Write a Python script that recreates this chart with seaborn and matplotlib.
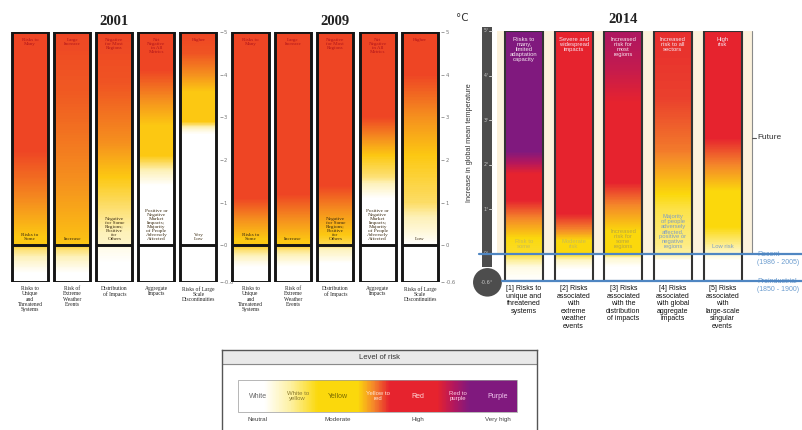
import numpy as np
import matplotlib
matplotlib.use("Agg")
import matplotlib.pyplot as plt
from matplotlib.patches import Rectangle, Ellipse
import seaborn as sns

# ---------------------------------------------------------------- data
old_categories = [
    "Risks to\nUnique\nand\nThreatened\nSystems",
    "Risk of\nExtreme\nWeather\nEvents",
    "Distribution\nof Impacts",
    "Aggregate\nImpacts",
    "Risks of Large\nScale\nDiscontinuities",
]
old_top_text = ["Risks to\nMany", "Large\nIncrease", "Negative\nfor Most\nRegions",
                "Net\nNegative\nin All\nMetrics", "Higher"]
bottom_text_2001 = ["Risks to\nSome", "Increase",
                    "Negative\nfor Some\nRegions;\nPositive\nfor\nOthers",
                    "Positive or\nNegative\nMarket\nImpacts;\nMajority\nof People\nAdversely\nAffected",
                    "Very\nLow"]
bottom_text_2009 = ["Risks to\nSome", "Increase",
                    "Negative\nfor Some\nRegions;\nPositive\nfor\nOthers",
                    "Positive or\nNegative\nMarket\nImpacts;\nMajority\nof People\nAdversely\nAffected",
                    "Low"]
old_ticks = [5, 4, 3, 2, 1, 0, -0.6]
old_tick_labels = ["5", "4", "3", "2", "1", "0", "-0.6"]

# ember colour stops: (temperature change in degC, risk level 0 = white ... 6 = purple)
embers_2001 = [
    [(5, 4), (2.2, 4), (1.0, 3), (0.2, 2), (0, 2), (-0.05, 1.5), (-0.45, 0), (-0.6, 0)],
    [(5, 4), (3.5, 3.7), (1.5, 3), (0.2, 2.2), (0, 2), (-0.05, 1.5), (-0.45, 0), (-0.6, 0)],
    [(5, 4), (3.8, 3.8), (2.4, 3), (1.6, 2), (0.3, 1), (0, 0.8), (-0.05, 0.3), (-0.3, 0), (-0.6, 0)],
    [(5, 4), (4.1, 4), (3.4, 3), (2.8, 2), (2.1, 2), (1.4, 0), (-0.6, 0)],
    [(5, 4), (4.5, 3.8), (4.0, 3), (3.6, 2), (2.9, 2), (2.7, 0.5), (2.6, 0), (-0.6, 0)],
]
embers_2009 = [
    [(5, 4), (1.1, 4), (0.6, 3), (0.15, 2), (0, 2), (-0.05, 1.6), (-0.35, 0), (-0.6, 0)],
    [(5, 4), (1.2, 4), (0.6, 3), (0.1, 2), (0, 2), (-0.05, 1.5), (-0.35, 0), (-0.6, 0)],
    [(5, 4), (1.4, 4), (0.8, 3), (0.25, 2), (0, 1.6), (-0.05, 1), (-0.3, 0), (-0.6, 0)],
    [(5, 4), (3.0, 4), (2.5, 3), (2.1, 2), (1.6, 1.4), (1.1, 0), (-0.6, 0)],
    [(5, 4), (4.0, 4), (3.0, 3), (2.1, 2), (1.0, 1.5), (0.3, 0.5), (0, 0), (-0.6, 0)],
]

categories_2014 = [
    "[1] Risks to\nunique and\nthreatened\nsystems",
    "[2] Risks\nassociated\nwith\nextreme\nweather\nevents",
    "[3] Risks\nassociated\nwith the\ndistribution\nof impacts",
    "[4] Risks\nassociated\nwith global\naggregate\nimpacts",
    "[5] Risks\nassociated\nwith\nlarge-scale\nsingular\nevents",
]
top_text_2014 = ["Risks to\nmany,\nlimited\nadaptation\ncapacity", "Severe and\nwidespread\nimpacts",
                 "Increased\nrisk for\nmost\nregions", "Increased\nrisk to all\nsectors", "High\nrisk"]
bottom_text_2014 = ["Risk to\nsome", "Moderate\nrisk", "Increased\nrisk for\nsome\nregions",
                    "Majority\nof people\nadversely\naffected,\npositive or\nnegative\nregions", "Low risk"]
bottom_color_2014 = ["#c9bb55", "#c9bb55", "#b8a640", "#7f9fc4", "#7f9fc4"]
embers_2014 = [
    [(5, 6), (2.3, 6), (1.8, 4), (1.2, 4), (0.8, 3), (0.35, 2), (0, 1.8), (-0.3, 0.3), (-0.61, 0)],
    [(5, 4), (0.9, 4), (0.55, 3), (0.3, 2), (0, 2), (-0.15, 0.6), (-0.35, 0), (-0.61, 0)],
    [(5, 5.1), (4.2, 4.7), (3.4, 4), (1.6, 4), (1.1, 3), (0.5, 2), (0, 2), (-0.1, 0.5), (-0.3, 0), (-0.61, 0)],
    [(5, 3.9), (3.5, 3.7), (2.3, 3.1), (1.5, 2.2), (1.0, 1.6), (0.2, 1.2), (0, 1), (-0.15, 0), (-0.61, 0)],
    [(5, 4), (2.6, 4), (2.0, 3), (1.4, 2), (0.6, 2), (0.15, 1), (0, 0.5), (-0.15, 0), (-0.61, 0)],
]
therm_ticks = [5, 4, 3, 2, 1, 0]
preindustrial = -0.61

legend_cells = ["White", "White to\nyellow", "Yellow", "Yellow to\nred", "Red", "Red to\npurple", "Purple"]
legend_cell_colors = ["#666666", "#8a7a30", "#7a6a00", "#ffe6d6", "#ffd8d8", "#ffd0e6", "#f2c8f0"]
legend_stops = [(-0.5, 0), (0.15, 0), (1.5, 2), (2.5, 2), (3.3, 4), (4.5, 4), (5.3, 6), (6.5, 6)]
legend_scale = ["Neutral", "Moderate", "High", "Very high"]
legend_scale_pos = [0, 2, 4, 6]

# ---------------------------------------------------------------- style
sns.set_theme(style="white")
plt.rcParams["font.family"] = ["DejaVu Sans"]
SERIF = "Liberation Serif"
SANS = "Liberation Sans"

cmap_old = sns.blend_palette(["#ffffff", "#fdf1b8", "#fcc812", "#f5901e",
                              "#ee4524", "#ee4524", "#ee4524"], as_cmap=True)
cmap_new = sns.blend_palette(["#ffffff", "#fdf0a0", "#fbd80c", "#f4852a",
                              "#e6232e", "#b3175d", "#80197e"], as_cmap=True)


def level_profile(stops, t):
    s = sorted(stops)
    return np.interp(t, [p[0] for p in s], [p[1] for p in s])


def draw_ember(ax, x, width, stops, cmap, tmin, tmax, n=400):
    edges = np.linspace(tmin, tmax, n + 1)
    mids = 0.5 * (edges[1:] + edges[:-1])
    lev = level_profile(stops, mids)
    ax.pcolormesh([x - width / 2, x + width / 2], edges, lev[:, None],
                  cmap=cmap, vmin=0, vmax=6, shading="flat", zorder=1)


def _fwd(t):
    t = np.asarray(t, dtype=float)
    return np.where(t < 0, t * 1.43, t)


def _inv(y):
    y = np.asarray(y, dtype=float)
    return np.where(y < 0, y / 1.43, y)


W, H = 802, 430
fig = plt.figure(figsize=(W / 100, H / 100), dpi=100)
fig.patch.set_facecolor("white")

# ---------------------------------------------------------------- 2001 / 2009 embers
old_panels = [
    ("2001", embers_2001, bottom_text_2001, [9 / W, 148 / H, 210.5 / W, 250 / H]),
    ("2009", embers_2009, bottom_text_2009, [229.3 / W, 148 / H, 212 / W, 250 / H]),
]
bar_w_old = 0.855
for year, embers, btext, rect in old_panels:
    ax = fig.add_axes(rect)
    ax.set_facecolor("white")
    ax.set_yscale("function", functions=(_fwd, _inv))
    ax.set_xlim(-0.5, 4.5)
    ax.set_ylim(-0.6, 5.0)
    for i, stops in enumerate(embers):
        draw_ember(ax, i, bar_w_old, stops, cmap_old, -0.6, 5.0)
        ax.add_patch(Rectangle((i - bar_w_old / 2, -0.6), bar_w_old, 5.6, fill=False,
                               ec="#151515", lw=2.1, zorder=3))
        ax.plot([i - bar_w_old / 2, i + bar_w_old / 2], [0, 0], color="#151515",
                lw=2.1, zorder=3, solid_capstyle="butt")
        ax.annotate(old_top_text[i], xy=(i, 5.0), xytext=(0, -4), textcoords="offset points",
                    ha="center", va="top", fontsize=3.6, color="#b0141a", family=SERIF,
                    linespacing=1.0, zorder=4)
        ax.annotate(btext[i], xy=(i, 0), xytext=(0, 3), textcoords="offset points",
                    ha="center", va="bottom", fontsize=3.8, color="#3a2a10", family=SERIF,
                    linespacing=1.0, zorder=4)
        ax.annotate(old_categories[i], xy=(i, -0.6), xytext=(0, -3), textcoords="offset points",
                    ha="center", va="top", fontsize=4, color="#222222", family=SERIF,
                    linespacing=1.05, annotation_clip=False)
    for sp in ax.spines.values():
        sp.set_visible(False)
    ax.set_xticks([])
    ax.yaxis.tick_right()
    ax.set_yticks(old_ticks)
    ax.set_yticklabels(old_tick_labels)
    ax.tick_params(axis="y", length=2, width=0.5, pad=1, labelsize=3.8,
                   colors="#777777", right=True, left=False)
    ax.set_title(year, fontsize=10.5, fontweight="bold", family=SERIF, color="#222222", pad=5)

# ---------------------------------------------------------------- 2014 embers
ax = fig.add_axes([450 / W, 149 / H, 352 / W, 250 / H])
ax.set_xlim(-1.49, 5.6)
ax.set_ylim(preindustrial, 5.0)
ax.axis("off")
bar_w_new = 0.766

# cream panel behind the embers
ax.add_patch(Rectangle((-0.544, 0), 5.14, 5.0, fc="#fbf1dc", ec="none", zorder=0))
ax.plot([4.596, 4.596], [0, 5.0], color="#8a8a8a", lw=0.8, zorder=0.5)

for i, stops in enumerate(embers_2014):
    draw_ember(ax, i, bar_w_new, stops, cmap_new, preindustrial, 5.0)
    ax.add_patch(Rectangle((i - bar_w_new / 2, preindustrial), bar_w_new, 5.0 - preindustrial,
                           fill=False, ec="#333333", lw=1.5, zorder=3))
    ax.annotate(top_text_2014[i], xy=(i, 5.0), xytext=(0, -4), textcoords="offset points",
                ha="center", va="top", fontsize=4.2, color="#f6e6f0", family=SANS,
                linespacing=1.0, zorder=4)
    ax.annotate(bottom_text_2014[i], xy=(i, 0.1), xytext=(0, 0), textcoords="offset points",
                ha="center", va="bottom", fontsize=4.2, color=bottom_color_2014[i], family=SANS,
                linespacing=1.0, zorder=4)
    ax.annotate(categories_2014[i], xy=(i, preindustrial), xytext=(0, -3),
                textcoords="offset points", ha="center", va="top", fontsize=5,
                color="#111111", family=SANS, linespacing=1.1, annotation_clip=False)

ax.text(2, 5.12, "2014", ha="center", va="bottom", fontsize=10.5, fontweight="bold",
        family=SERIF, color="#222222")

# reference lines
ax.plot([-0.9, 5.6], [0, 0], color="#4f86c2", lw=1.6, zorder=5, clip_on=False)
ax.plot([-0.45, 5.6], [preindustrial, preindustrial], color="#4f86c2", lw=1.6, zorder=5,
        clip_on=False)
ax.text(4.70, 0.06, "Recent\n(1986 - 2005)", ha="left", va="top", fontsize=5,
        color="#6c9dcf", family=SANS, linespacing=1.1)
ax.text(4.70, preindustrial + 0.06, "Preindustrial\n(1850 - 1900)", ha="left", va="top",
        fontsize=5, color="#6c9dcf", family=SANS, linespacing=1.1)
ax.plot([4.596, 4.68], [2.6, 2.6], color="#555555", lw=0.8)
ax.text(4.70, 2.6, "Future", ha="left", va="center", fontsize=6, color="#333333", family=SANS)

# thermometer
tx = -0.736
ax.add_patch(Rectangle((tx - 0.1, -0.3), 0.2, 5.39, fc="#4d4d4d", ec="none", zorder=2,
                       clip_on=False))
ax.add_patch(Ellipse((tx, preindustrial - 0.03), 0.58, 0.64, fc="#4d4d4d", ec="none", zorder=2,
                     clip_on=False))
for t in therm_ticks:
    ax.plot([tx + 0.04, tx + 0.1], [t, t], color="#dddddd", lw=0.6, zorder=3, clip_on=False)
    ax.text(tx - 0.02, t, f"{t}\u00b0", ha="center", va="center", fontsize=3.3,
            color="#c8c8c8", zorder=4)
ax.text(tx, preindustrial - 0.03, "-0.6\u00b0", ha="center", va="center", fontsize=3.6,
        color="#c8c8c8", zorder=4)
ax.text(tx - 0.5, 5.3, "\u00b0C", ha="center", va="center", fontsize=7.5, color="#333333")
ax.text(-1.09, 2.49, "Increase in global mean temperature", rotation=90, ha="center",
        va="center", fontsize=5.3, color="#333333", family=SANS)

# ---------------------------------------------------------------- legend
lg = fig.add_axes([222 / W, 0, 315 / W, 80 / H])
lg.set_xlim(-0.90, 6.99)
lg.set_ylim(0, 1)
lg.set_xticks([])
lg.set_yticks([])
for name, sp in lg.spines.items():
    sp.set_visible(name != "bottom")
    sp.set_color("#555555")
    sp.set_linewidth(1.0)
lg.axhspan(0.825, 1.0, color="#e9e9e9", zorder=0)
lg.axhline(0.825, color="#8a8a8a", lw=0.8)
lg.text(3.05, 0.91, "Level of risk", ha="center", va="center", fontsize=5.5,
        color="#333333", family=SANS)

xe = np.linspace(-0.5, 6.5, 351)
xm = 0.5 * (xe[1:] + xe[:-1])
lev = level_profile(legend_stops, xm)
lg.pcolormesh(xe, [0.225, 0.625], lev[None, :], cmap=cmap_new, vmin=0, vmax=6,
              shading="flat", zorder=1)
lg.add_patch(Rectangle((-0.5, 0.225), 7.0, 0.4, fill=False, ec="#9a9a9a", lw=0.5, zorder=2))
for k, (lab, col) in enumerate(zip(legend_cells, legend_cell_colors)):
    lg.text(k, 0.425, lab, ha="center", va="center", fontsize=4.3 if "\n" in lab else 5,
            color=col, family=SANS, linespacing=1.0, zorder=3)
for lab, pos in zip(legend_scale, legend_scale_pos):
    lg.text(pos, 0.13, lab, ha="center", va="center", fontsize=4.5, color="#444444",
            family=SANS)

fig.savefig("out.png", dpi=100, facecolor="white")
